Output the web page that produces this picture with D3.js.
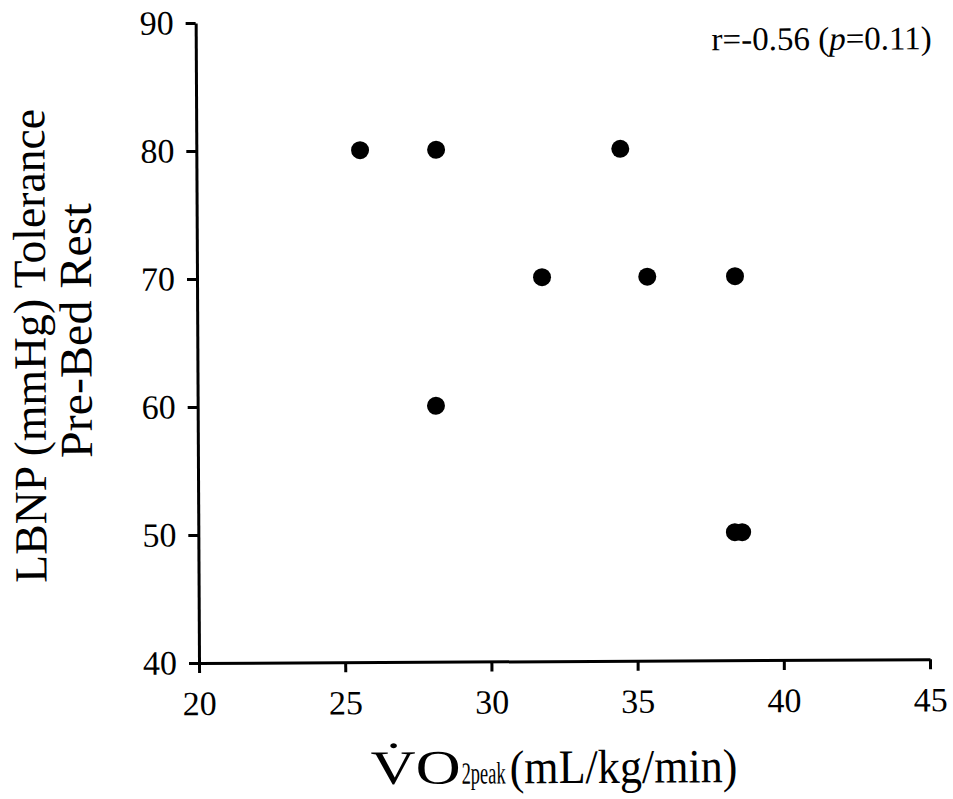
<!DOCTYPE html>
<html><head><meta charset="utf-8">
<script src="https://cdn.jsdelivr.net/npm/d3@7"></script>
<style>body{margin:0;background:#fff}svg{display:block}</style>
</head><body>
<script>
const vo2peak = [25.6, 28.2, 34.5, 31.8, 35.4, 38.4, 28.15, 38.35, 38.6];
const lbnpTolerance = [80, 80, 80, 70, 70, 70, 60, 50, 50];
const xTicks = [20, 25, 30, 35, 40, 45];
const yTicks = [40, 50, 60, 70, 80, 90];
const annotation = ["r=-0.56 (", "p", "=0.11)"];
const yLabelLines = ["LBNP (mmHg) Tolerance", "Pre-Bed Rest"];
const xLabelParts = ["V\u0307O", "2peak", "(mL/kg/min)"];

const W = 953, H = 799;
const font = "'Liberation Serif','Times New Roman',serif";
const svg = d3.select("body").append("svg").attr("width", W).attr("height", H);
const g = svg.append("g").attr("transform", "rotate(-0.3,199,663)");

const x = d3.scaleLinear().domain([20, 45]).range([199, 930]);
const y = d3.scaleLinear().domain([40, 90]).range([663, 23]);

const xAxis = g.append("g").attr("transform", "translate(0,663)")
  .call(d3.axisBottom(x).tickValues(xTicks).tickSize(10).tickSizeOuter(0).tickPadding(18));
const yAxis = g.append("g").attr("transform", "translate(199,0)")
  .call(d3.axisLeft(y).tickValues(yTicks).tickSize(10).tickSizeOuter(0).tickPadding(12));
[xAxis, yAxis].forEach(a => {
  a.attr("font-family", font).attr("font-size", 34);
  a.select(".domain").attr("stroke", "#000").attr("stroke-width", 3);
  a.selectAll(".tick line").attr("stroke", "#000").attr("stroke-width", 3);
  a.selectAll(".tick text").attr("fill", "#000");
});

g.append("g").selectAll("circle").data(vo2peak).join("circle")
  .attr("cx", d => x(d)).attr("cy", (d, i) => y(lbnpTolerance[i]))
  .attr("r", 9).attr("fill", "#000");

// annotation
const ann = g.append("text").attr("x", 935).attr("y", 53).attr("text-anchor", "end")
  .attr("font-family", font).attr("font-size", 33).attr("fill", "#000");
ann.append("tspan").text(annotation[0]);
ann.append("tspan").attr("font-style", "italic").text(annotation[1]);
ann.append("tspan").text(annotation[2]);

// x label, pieces with horizontal scaling to match the reference's proportions
const xParts = [
  {t: xLabelParts[0], x: 370, size: 48, w: 90},
  {t: xLabelParts[1], x: 461, size: 31, w: 44},
  {t: xLabelParts[2], x: 509, size: 48, w: 228}
];
xParts.forEach(p => {
  const t = g.append("text").attr("font-family", font).attr("font-size", p.size).attr("fill", "#000").text(p.t);
  const nat = t.node().getComputedTextLength();
  t.attr("transform", `translate(${p.x},785) scale(${p.w / nat},1)`);
});

// y label
const yl = [{t: yLabelLines[0], bx: 47, cy: 345, len: 474}, {t: yLabelLines[1], bx: 93, cy: 330, len: 255}];
yl.forEach(d => {
  const t = g.append("text").attr("text-anchor", "middle").attr("font-family", font).attr("font-size", 46)
    .attr("fill", "#000").text(d.t);
  const nat = t.node().getComputedTextLength();
  t.attr("transform", `translate(${d.bx},${d.cy}) rotate(-90) scale(${d.len / nat},1)`);
});
</script>
</body></html>
